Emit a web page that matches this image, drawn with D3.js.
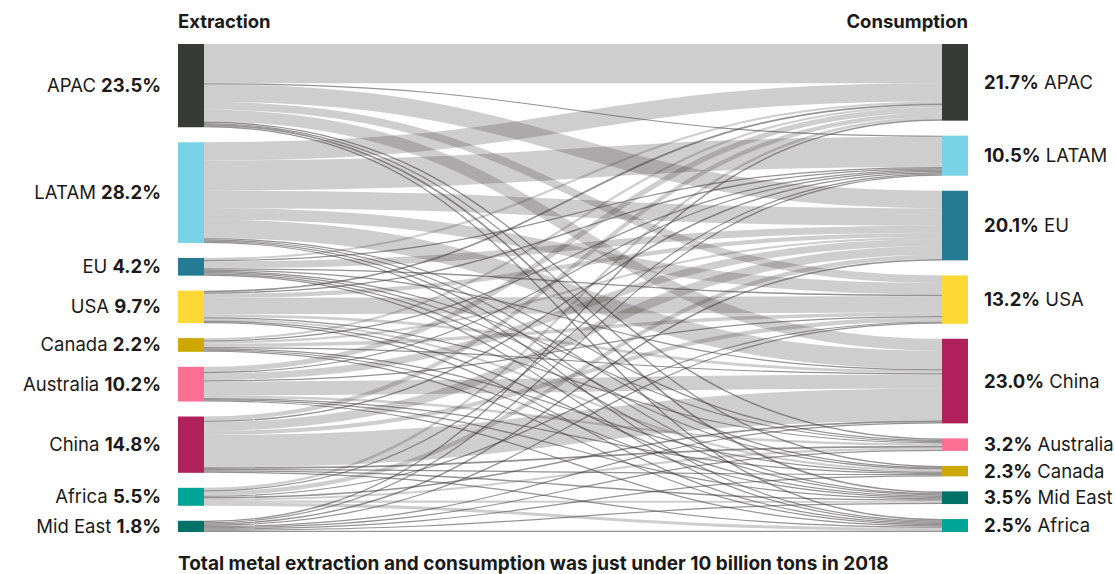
<!DOCTYPE html>
<html><head><meta charset="utf-8">
<script src="https://cdn.jsdelivr.net/npm/d3@7"></script>
<style>
body{margin:0;background:#fff}
text{font-family:Inter,"Noto Sans",sans-serif;fill:#1a1a1a}
</style>
</head><body>
<svg id="chart" width="1115" height="574"></svg>
<script>
// ---- data ----
const sourceNames  = ["APAC","LATAM","EU","USA","Canada","Australia","China","Africa","Mid East"];
const sourceShares = [23.5, 28.2, 4.2, 9.7, 2.2, 10.2, 14.8, 5.5, 1.8];
const targetNames  = ["APAC","LATAM","EU","USA","China","Australia","Canada","Mid East","Africa"];
const targetShares = [21.7, 10.5, 20.1, 13.2, 23.0, 3.2, 2.3, 3.5, 2.5];
// flows[source][target], % of total; targets in targetNames order
const flowsAPAC      = [11.2, 0.3, 5.0, 2.2, 3.4, 0.4, 0.3, 0.5, 0.4];
const flowsLATAM     = [5.2, 8.6, 5.0, 3.3, 5.3, 0.1, 0.2, 0.3, 0.2];
const flowsEU        = [0.6, 0.3, 2.0, 0.4, 0.3, 0.1, 0.1, 0.2, 0.2];
const flowsUSA       = [0.5, 0.4, 1.2, 4.7, 0.8, 0.1, 0.6, 0.4, 0.2];
const flowsCanada    = [0.6, 0.1, 0.6, 1.0, 0.1, 0.0, 0.3, 0.05, 0.05];
const flowsAustralia = [1.5, 0.1, 2.0, 0.2, 4.0, 0.7, 0.1, 0.2, 0.1];
const flowsChina     = [1.2, 0.4, 2.5, 1.2, 9.2, 0.5, 0.3, 0.4, 0.3];
const flowsAfrica    = [0.7, 0.2, 1.2, 0.15, 0.45, 0.6, 0.0, 0.6, 0.9];
const flowsMidEast   = [0.4, 0.1, 0.4, 0.05, 0.05, 0.2, 0.05, 0.35, 0.2];
const flows = [flowsAPAC, flowsLATAM, flowsEU, flowsUSA, flowsCanada, flowsAustralia, flowsChina, flowsAfrica, flowsMidEast];
const regionColors = {"APAC":"#383a38","LATAM":"#79d3e6","EU":"#267b94","USA":"#fdd935","Canada":"#cca800",
  "Australia":"#fe7093","China":"#b0215c","Africa":"#00a597","Mid East":"#007268"};
const headerLeft = "Extraction", headerRight = "Consumption";
const caption = "Total metal extraction and consumption was just under 10 billion tons in 2018";

// ---- layout ----
const svg = d3.select("#chart");
const yTop = 44, yBottom = 532;
const leftX0 = 178, rightX0 = 942, nodeW = 26;
const wScale = d3.scaleLinear().domain([0, 1]).range([0, 3.5]);
const minW = 1.2;
const lw = v => Math.max(minW, wScale(v));

const links = [];
flows.forEach((row, s) => row.forEach((v, t) => { if (v > 0) links.push({s, t, v, w: lw(v)}); }));

function layoutSide(names, key) {
  const nodes = names.map((n, i) => ({name: n, i, h: d3.sum(links.filter(l => l[key] === i), l => l.w)}));
  const total = d3.sum(nodes, d => d.h);
  const gap = (yBottom - yTop - total) / (nodes.length - 1);
  let y = yTop;
  nodes.forEach(d => { d.y0 = y; d.y1 = y + d.h; y = d.y1 + gap; });
  return nodes;
}
const srcNodes = layoutSide(sourceNames, "s");
const tgtNodes = layoutSide(targetNames, "t");

srcNodes.forEach(n => {
  let y = n.y0;
  links.filter(l => l.s === n.i).sort((a, b) => a.t - b.t).forEach(l => { l.ys = y + l.w / 2; y += l.w; });
});
tgtNodes.forEach(n => {
  let y = n.y0;
  links.filter(l => l.t === n.i).sort((a, b) => a.s - b.s).forEach(l => { l.yt = y + l.w / 2; y += l.w; });
});

const linkGen = d3.linkHorizontal()
  .source(d => [leftX0 + nodeW, d.ys])
  .target(d => [rightX0, d.yt]);

svg.append("g").attr("fill", "none")
  .selectAll("path").data(links.slice().sort((a, b) => b.w - a.w)).join("path")
  .attr("d", linkGen)
  .attr("stroke", "#3e3b3c")
  .attr("stroke-opacity", d => d.w < 2 ? 0.55 : 0.25)
  .attr("stroke-width", d => d.w);

svg.append("g").selectAll("rect").data(srcNodes).join("rect")
  .attr("x", leftX0).attr("width", nodeW)
  .attr("y", d => d.y0).attr("height", d => d.h)
  .attr("fill", d => regionColors[d.name]);
svg.append("g").selectAll("rect").data(tgtNodes).join("rect")
  .attr("x", rightX0).attr("width", nodeW)
  .attr("y", d => d.y0).attr("height", d => d.h)
  .attr("fill", d => regionColors[d.name]);

const fs = 18.5;
const lt = svg.append("g").selectAll("text").data(srcNodes).join("text")
  .attr("x", 161).attr("y", d => (d.y0 + d.y1) / 2)
  .attr("dy", "0.35em").attr("text-anchor", "end").attr("font-size", fs);
lt.append("tspan").text(d => d.name + " ");
lt.append("tspan").attr("font-weight", 700).text(d => sourceShares[d.i].toFixed(1) + "%");

const rt = svg.append("g").selectAll("text").data(tgtNodes).join("text")
  .attr("x", 984).attr("y", d => (d.y0 + d.y1) / 2)
  .attr("dy", "0.35em").attr("text-anchor", "start").attr("font-size", fs);
rt.append("tspan").attr("font-weight", 700).text(d => targetShares[d.i].toFixed(1) + "%");
rt.append("tspan").text(d => " " + d.name);

svg.append("text").attr("x", leftX0).attr("y", 28).attr("font-size", 18.5).attr("font-weight", 700).text(headerLeft);
svg.append("text").attr("x", rightX0 + nodeW).attr("y", 28).attr("text-anchor", "end").attr("font-size", 18.5).attr("font-weight", 700).text(headerRight);
svg.append("text").attr("x", leftX0).attr("y", 570).attr("font-size", 19).attr("font-weight", 700).text(caption);
</script>
</body></html>
